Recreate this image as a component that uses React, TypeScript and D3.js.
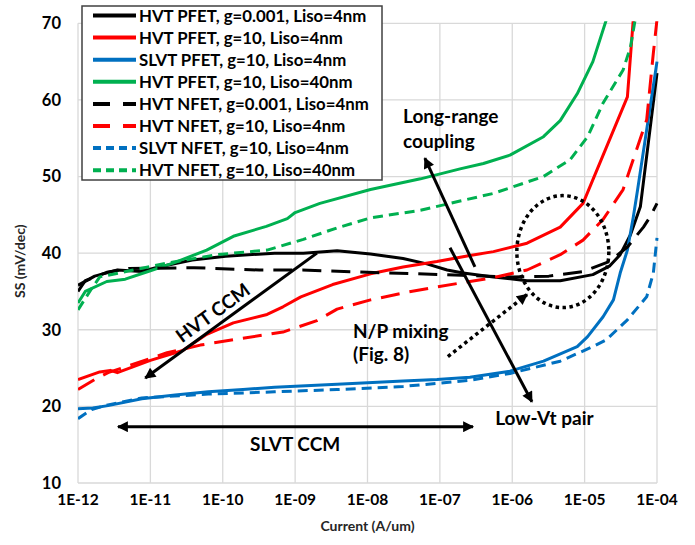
import React from "react";
import * as d3 from "d3";

type Pt = [number, number];

// Current (A/um), SS (mV/dec)
const hvtPfetG0001: Pt[] = [
  [1e-12, 35.8], [1.7e-12, 37.0], [3.5e-12, 37.8], [7.6e-12, 37.6], [1.3e-11, 38.2],
  [3.8e-11, 39.1], [1.1e-10, 39.6], [5.2e-10, 40.0], [1.3e-9, 40.0], [3.8e-9, 40.3],
  [1.1e-8, 39.9], [3.1e-8, 39.3], [6.6e-8, 38.6], [1.26e-7, 37.8], [2.1e-7, 37.4],
  [5.5e-7, 36.9], [1.6e-6, 36.4], [4.6e-6, 36.4], [1.3e-5, 37.2], [2.2e-5, 38.3],
  [3.1e-5, 39.8], [4.3e-5, 42.4], [5.9e-5, 46.1], [1e-4, 63.5],
];
const hvtPfetG10: Pt[] = [
  [1e-12, 23.5], [2e-12, 24.5], [2.8e-12, 24.7], [3.5e-12, 24.4], [1e-11, 26.0],
  [2.8e-11, 27.3], [6e-11, 29.4], [1.4e-10, 30.9], [4.1e-10, 32.0], [6.8e-10, 33.0],
  [1.2e-9, 34.3], [3.3e-9, 35.9], [1.1e-8, 37.3], [3.1e-8, 38.2], [9.1e-8, 38.9],
  [2.6e-7, 39.7], [5.5e-7, 40.2], [1.6e-6, 41.3], [4.6e-6, 43.4], [9.5e-6, 46.5],
  [3.9e-5, 60.4], [4.7e-5, 70.5],
];
const slvtPfetG10: Pt[] = [
  [1e-12, 19.7], [1.6e-12, 19.8], [2.6e-12, 20.1], [7.6e-12, 21.0], [2.2e-11, 21.5],
  [6.3e-11, 21.9], [1.9e-10, 22.2], [5.2e-10, 22.5], [3.8e-9, 22.9], [3.1e-8, 23.3],
  [9.1e-8, 23.5], [2.6e-7, 23.8], [9.3e-7, 24.6], [2.7e-6, 25.9], [7.9e-6, 27.8],
  [1.1e-5, 29.1], [1.8e-5, 31.7], [2.5e-5, 33.9], [3.1e-5, 37.4], [3.9e-5, 40.4],
  [4.7e-5, 44.7], [5.4e-5, 48.3], [1e-4, 65.0],
];
const hvtPfetG10L40: Pt[] = [
  [1e-12, 33.5], [1.26e-12, 35.0], [2.5e-12, 36.3], [4.5e-12, 36.6], [9.3e-12, 37.6],
  [2.2e-11, 38.8], [6e-11, 40.4], [1.4e-10, 42.2], [4e-10, 43.5], [7.8e-10, 44.5],
  [1e-9, 45.3], [2.2e-9, 46.5], [1.1e-8, 48.3], [5.4e-8, 49.7], [1.9e-7, 51.0],
  [4e-7, 51.7], [9.3e-7, 52.8], [2.7e-6, 55.2], [4.6e-6, 57.3], [7.9e-6, 60.8],
  [1.3e-5, 65.0], [2.0e-5, 70.5],
];
const hvtNfetG0001: Pt[] = [
  [1e-12, 35.0], [1.26e-12, 36.4], [2.5e-12, 37.5], [5e-12, 38.0], [4e-11, 38.1],
  [3.2e-10, 37.8], [1.26e-9, 37.8], [1e-8, 37.5], [5e-8, 37.3], [2e-7, 37.1],
  [1e-6, 36.9], [3.2e-6, 37.0], [9.5e-6, 37.6], [2.2e-5, 38.9], [3.9e-5, 40.8],
  [6.5e-5, 43.4], [8.1e-5, 44.8], [1e-4, 46.5],
];
const hvtNfetG10: Pt[] = [
  [1e-12, 22.2], [1.7e-12, 23.5], [2.6e-12, 24.4], [1.7e-11, 27.0], [4.9e-11, 28.0],
  [1.4e-10, 28.7], [6.8e-10, 29.7], [2e-9, 31.2], [3.8e-9, 32.7], [1.1e-8, 33.9],
  [3.1e-8, 34.8], [9.1e-8, 35.6], [2.6e-7, 36.3], [5.5e-7, 36.8], [1.6e-6, 37.8],
  [4.6e-6, 39.8], [9.5e-6, 41.7], [1.8e-5, 44.4], [3.4e-5, 48.3], [7.2e-5, 57.4],
  [8.9e-5, 66.1], [1e-4, 70.5],
];
const slvtNfetG10: Pt[] = [
  [1e-12, 18.4], [1.55e-12, 19.6], [2.6e-12, 20.2], [7.6e-12, 21.1], [6.3e-11, 21.6],
  [5.2e-10, 21.9], [3.8e-9, 22.2], [3.1e-8, 22.6], [2.6e-7, 23.4], [9.3e-7, 24.3],
  [4.6e-6, 25.9], [1.3e-5, 27.8], [2.0e-5, 28.7], [3.9e-5, 31.3], [7.2e-5, 34.3],
  [8.9e-5, 37.4], [1e-4, 42.0],
];
const hvtNfetG10L40: Pt[] = [
  [1e-12, 32.6], [1.5e-12, 35.2], [2e-12, 36.9], [5.8e-12, 37.8], [1.7e-11, 38.7],
  [8.3e-11, 39.8], [4.1e-10, 40.4], [1.3e-9, 41.8], [3.8e-9, 43.3], [1.1e-8, 44.6],
  [5.4e-8, 45.6], [1.9e-7, 46.8], [5.5e-7, 47.8], [2.7e-6, 50.0], [6.3e-6, 52.2],
  [1.1e-5, 55.2], [1.8e-5, 59.6], [3.4e-5, 63.9], [4.3e-5, 66.9], [5e-5, 70.5],
];

const seriesNames = [
  "HVT PFET, g=0.001, Liso=4nm",
  "HVT PFET, g=10, Liso=4nm",
  "SLVT PFET, g=10, Liso=4nm",
  "HVT PFET, g=10, Liso=40nm",
  "HVT NFET, g=0.001, Liso=4nm",
  "HVT NFET, g=10, Liso=4nm",
  "SLVT NFET, g=10, Liso=4nm",
  "HVT NFET, g=10, Liso=40nm",
];
const seriesData = [
  hvtPfetG0001, hvtPfetG10, slvtPfetG10, hvtPfetG10L40,
  hvtNfetG0001, hvtNfetG10, slvtNfetG10, hvtNfetG10L40,
];
const seriesColors = ["#000000", "#ff0000", "#0070c0", "#00b050", "#000000", "#ff0000", "#0070c0", "#00b050"];
const seriesDash = ["", "", "", "", "19,10", "19,10", "10,6", "10,6"];

const xTicks = [1e-12, 1e-11, 1e-10, 1e-9, 1e-8, 1e-7, 1e-6, 1e-5, 1e-4];
const xTickLabels = ["1E-12", "1E-11", "1E-10", "1E-09", "1E-08", "1E-07", "1E-06", "1E-05", "1E-04"];
const yTicks = [10, 20, 30, 40, 50, 60, 70];

const FONT = "Lato, 'Open Sans', sans-serif";

export default function App() {
  const W = 695, H = 545;
  const left = 78, right = 657, top = 23.3, bottom = 483;
  const x = d3.scaleLog().domain([1e-12, 1e-4]).range([left, right]);
  const y = d3.scaleLinear().domain([10, 70]).range([bottom, top]);
  const line = d3.line<Pt>().x((d) => x(d[0])).y((d) => y(d[1]));

  // annotation anchors (data coords)
  const hvtArrow: Pt[] = [[2e-9, 40.0], [8.5e-12, 23.7]];
  const lrArrow: Pt[] = [[3.05e-7, 38.2], [6.2e-8, 52.4]];
  const lowVtArrow: Pt[] = [[1.38e-7, 40.7], [1.87e-6, 20.6]];
  const slvtArrow: Pt[] = [[3.57e-12, 17.35], [2.87e-7, 17.35]];
  const npArrow: Pt[] = [[1.29e-7, 26.5], [1.6e-6, 34.6]];
  const ellipseC: Pt = [5.0e-6, 40.2];

  const P = (p: Pt) => [x(p[0]), y(p[1])];
  const ex = x(ellipseC[0]), ey = y(ellipseC[1]);
  const hvtText = P([7.3e-11, 32.2]);
  const AF = 19;

  return (
    <svg width={W} height={H} style={{ position: "absolute", left: 0, top: 0, background: "#fff" }} fontFamily={FONT}>
      <defs>
        <clipPath id="plot">
          <rect x={left} y={top - 2} width={right - left + 2} height={bottom - top + 4} />
        </clipPath>
        <marker id="ah" viewBox="0 0 10 10" refX="9" refY="5" markerWidth="12" markerHeight="11" markerUnits="userSpaceOnUse" orient="auto-start-reverse">
          <path d="M0,0 L10,5 L0,10 z" fill="#000" />
        </marker>
      </defs>
      <rect x={0} y={0} width={W} height={H} fill="#fff" />
      {/* grid */}
      {yTicks.map((t) => (
        <line key={"gy" + t} x1={left} x2={right} y1={y(t)} y2={y(t)} stroke="#d9d9d9" strokeWidth={1.3} />
      ))}
      {xTicks.map((t) => (
        <line key={"gx" + t} x1={x(t)} x2={x(t)} y1={top} y2={bottom} stroke="#d9d9d9" strokeWidth={1.3} />
      ))}
      {/* ticks labels */}
      {yTicks.map((t) => (
        <text key={"ty" + t} x={61} y={y(t)} dy="0.36em" textAnchor="end" fontSize={16.5} fontWeight={700} fill="#000">{t}</text>
      ))}
      {xTicks.map((t, i) => (
        <text key={"tx" + t} x={x(t)} y={505} textAnchor="middle" fontSize={15.5} fontWeight={700} fill="#000">{xTickLabels[i]}</text>
      ))}
      <text x={(left + right) / 2} y={531} textAnchor="middle" fontSize={14} fontWeight={700} fill="#262626">Current (A/um)</text>
      <text transform={`translate(20,${(top + bottom) / 2 + 8}) rotate(-90)`} textAnchor="middle" dy="0.35em" fontSize={14} fontWeight={700} fill="#262626">SS (mV/dec)</text>

      {/* series */}
      <g clipPath="url(#plot)">
        {seriesData.map((s, i) => (
          <path key={"s" + i} d={line(s) || ""} fill="none" stroke={seriesColors[i]} strokeWidth={3} strokeDasharray={seriesDash[i] || undefined} strokeLinejoin="round" />
        ))}
      </g>

      {/* annotations */}
      <line x1={P(hvtArrow[0])[0]} y1={P(hvtArrow[0])[1]} x2={P(hvtArrow[1])[0]} y2={P(hvtArrow[1])[1]} stroke="#000" strokeWidth={3} markerEnd="url(#ah)" />
      <line x1={P(lrArrow[0])[0]} y1={P(lrArrow[0])[1]} x2={P(lrArrow[1])[0]} y2={P(lrArrow[1])[1]} stroke="#000" strokeWidth={3} markerEnd="url(#ah)" />
      <line x1={P(lowVtArrow[0])[0]} y1={P(lowVtArrow[0])[1]} x2={P(lowVtArrow[1])[0]} y2={P(lowVtArrow[1])[1]} stroke="#000" strokeWidth={3} markerEnd="url(#ah)" />
      <line x1={P(slvtArrow[0])[0]} y1={P(slvtArrow[0])[1]} x2={P(slvtArrow[1])[0]} y2={P(slvtArrow[1])[1]} stroke="#000" strokeWidth={3} markerEnd="url(#ah)" markerStart="url(#ah)" />
      <line x1={P(npArrow[0])[0]} y1={P(npArrow[0])[1]} x2={P(npArrow[1])[0]} y2={P(npArrow[1])[1]} stroke="#000" strokeWidth={3.5} strokeDasharray="3.5,3.5" markerEnd="url(#ah)" />
      <ellipse cx={ex} cy={ey} rx={46} ry={56} fill="none" stroke="#000" strokeWidth={3.5} strokeDasharray="3.5,3.5" />

      <text transform={`translate(${hvtText[0]},${hvtText[1]}) rotate(-36)`} textAnchor="middle" dy="0.35em" fontSize={AF} fontWeight={700}>HVT CCM</text>
      <text x={P([1e-9, 15.0])[0]} y={P([1e-9, 15.0])[1]} dy="0.35em" textAnchor="middle" fontSize={AF} fontWeight={700}>SLVT CCM</text>
      <text x={P([3.1e-8, 57.0])[0]} y={P([3.1e-8, 57.0])[1]} fontSize={AF} fontWeight={700}>Long-range</text>
      <text x={P([3.1e-8, 53.75])[0]} y={P([3.1e-8, 53.75])[1]} fontSize={AF} fontWeight={700}>coupling</text>
      <text x={P([5.8e-7, 18.4])[0]} y={P([5.8e-7, 18.4])[1]} dy="0.35em" fontSize={AF} fontWeight={700}>Low-Vt pair</text>
      <text x={P([6.3e-9, 29.75])[0]} y={P([6.3e-9, 29.75])[1]} dy="0.35em" fontSize={AF} fontWeight={700}>N/P mixing</text>
      <text x={P([6.3e-9, 26.75])[0]} y={P([6.3e-9, 26.75])[1]} dy="0.35em" fontSize={AF} fontWeight={700}>(Fig. 8)</text>

      {/* legend */}
      <g>
        <rect x={82} y={6} width={300} height={174} fill="#fff" stroke="#404040" strokeWidth={1.5} />
        {seriesNames.map((n, i) => {
          const ly = 15.5 + i * 22.1;
          return (
            <g key={"lg" + i}>
              <line x1={93} x2={136} y1={ly} y2={ly} stroke={seriesColors[i]} strokeWidth={4} strokeDasharray={i >= 4 ? (i < 6 ? "17,13" : "8,5") : undefined} />
              <text x={139} y={ly} dy="0.36em" fontSize={16.8} fontWeight={700} fill="#000">{n}</text>
            </g>
          );
        })}
      </g>
    </svg>
  );
}
